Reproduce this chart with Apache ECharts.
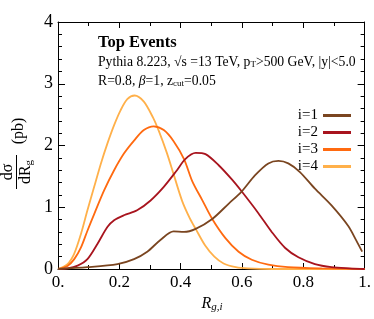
<!DOCTYPE html>
<html><head><meta charset="utf-8">
<script src="https://cdn.jsdelivr.net/npm/echarts@6/dist/echarts.min.js"></script>
<style>html,body{margin:0;padding:0;background:#fff}#c{width:374px;height:319px}</style>
</head><body><div id="c"></div>
<script>
var xTicks = ['0.', '0.2', '0.4', '0.6', '0.8', '1.'];
var yTicks = ['0', '1', '2', '3', '4'];
var seriesNames = ['i=1', 'i=2', 'i=3', 'i=4'];
var colors = ['#7a4520', '#a8141e', '#ff6a10', '#ffb04a'];

var r1X = [0, 0.096, 0.194, 0.248, 0.291, 0.334, 0.377, 0.411, 0.449, 0.503, 0.557, 0.598, 0.643, 0.686, 0.719, 0.751, 0.789, 0.838, 0.892, 0.946, 0.973, 0.992];
var r1Y = [0, 0.03, 0.08, 0.16, 0.28, 0.47, 0.61, 0.60, 0.65, 0.81, 1.06, 1.25, 1.52, 1.71, 1.75, 1.71, 1.57, 1.30, 1.03, 0.70, 0.46, 0.28];

var r2X = [0, 0.031, 0.064, 0.096, 0.129, 0.161, 0.183, 0.215, 0.258, 0.302, 0.345, 0.388, 0.415, 0.449, 0.481, 0.524, 0.567, 0.6, 0.654, 0.697, 0.741, 0.784, 0.838, 0.892, 0.95, 1.0];
var r2Y = [0, 0.01, 0.055, 0.16, 0.41, 0.68, 0.79, 0.87, 0.95, 1.11, 1.33, 1.60, 1.78, 1.88, 1.86, 1.68, 1.45, 1.25, 0.90, 0.60, 0.34, 0.19, 0.08, 0.03, 0.01, 0];

var r3X = [0, 0.031, 0.053, 0.075, 0.096, 0.118, 0.15, 0.183, 0.215, 0.248, 0.28, 0.312, 0.345, 0.377, 0.411, 0.438, 0.47, 0.503, 0.546, 0.589, 0.632, 0.686, 0.75, 0.86, 1.0];
var r3Y = [0, 0.05, 0.16, 0.35, 0.62, 0.89, 1.27, 1.60, 1.87, 2.08, 2.25, 2.31, 2.25, 2.07, 1.78, 1.42, 1.12, 0.81, 0.50, 0.28, 0.15, 0.07, 0.03, 0.01, 0];

var r4X = [0, 0.031, 0.053, 0.075, 0.096, 0.118, 0.14, 0.161, 0.183, 0.204, 0.226, 0.25, 0.28, 0.31, 0.33, 0.355, 0.378, 0.405, 0.43, 0.449, 0.48, 0.51, 0.54, 0.58, 0.62, 0.7, 1.0];
var r4Y = [0, 0.08, 0.25, 0.57, 0.95, 1.33, 1.71, 2.03, 2.33, 2.57, 2.75, 2.81, 2.71, 2.45, 2.22, 1.88, 1.52, 1.10, 0.82, 0.65, 0.38, 0.20, 0.09, 0.03, 0.01, 0, 0];

function pairs(xs, ys) { return xs.map(function (x, i) { return [x, ys[i]]; }); }
var allX = [r1X, r2X, r3X, r4X];
var allY = [r1Y, r2Y, r3Y, r4Y];

var serif = 'Liberation Serif';
var chart = echarts.init(document.getElementById('c'));
var axisCommon = {
  axisLine: { show: true, onZero: false, lineStyle: { color: '#000', width: 1 } },
  splitLine: { show: false }
};
var series = seriesNames.map(function (n, i) {
  return {
    name: n, type: 'line', data: pairs(allX[i], allY[i]), smooth: 0.3,
    showSymbol: false, symbol: 'none', lineStyle: { color: colors[i], width: 1.8 },
    itemStyle: { color: colors[i] }, z: 10 - i
  };
});
chart.setOption({
  animation: false,
  grid: { left: 58, right: 7, top: 22, bottom: 50 },
  legend: {
    data: seriesNames, orient: 'vertical', right: 18, top: 103, align: 'right',
    itemWidth: 28, itemHeight: 3, itemGap: 2, icon: 'rect',
    textStyle: { fontFamily: serif, fontSize: 15, color: '#000' }
  },
  xAxis: [
    Object.assign({
      type: 'value', min: 0, max: 1, interval: 0.2,
      axisTick: { inside: true, length: 6, lineStyle: { color: '#000' } },
      minorTick: { show: true, splitNumber: 2, length: 4, lineStyle: { color: '#000' } },
      axisLabel: { fontFamily: serif, fontSize: 17, color: '#000', margin: 5,
        formatter: function (v) { return xTicks[Math.round(v / 0.2)]; } }
    }, axisCommon),
    Object.assign({
      type: 'value', min: 0, max: 1, interval: 0.2, position: 'top',
      axisTick: { inside: true, length: 6, lineStyle: { color: '#000' } },
      minorTick: { show: true, splitNumber: 2, length: 4, lineStyle: { color: '#000' } },
      axisLabel: { show: false }
    }, axisCommon)
  ],
  yAxis: [
    Object.assign({
      type: 'value', min: 0, max: 4, interval: 1,
      axisTick: { inside: true, length: 7, lineStyle: { color: '#000' } },
      minorTick: { show: true, splitNumber: 5, length: 4, lineStyle: { color: '#000' } },
      axisLabel: { fontFamily: serif, fontSize: 18, color: '#000', margin: 5,
        formatter: function (v) { return yTicks[Math.round(v)]; } }
    }, axisCommon),
    Object.assign({
      type: 'value', min: 0, max: 4, interval: 1, position: 'right',
      axisTick: { inside: true, length: 7, lineStyle: { color: '#000' } },
      minorTick: { show: true, splitNumber: 5, length: 4, lineStyle: { color: '#000' } },
      axisLabel: { show: false }
    }, axisCommon)
  ],
  series: series,
  graphic: [
    { type: 'text', left: 98, top: 34, style: { text: 'Top Events', font: 'bold 16.5px "Liberation Serif"', fill: '#000' } },
    { type: 'text', left: 98, top: 55, style: {
      text: '{t|Pythia 8.223, √s =13 TeV, p}{s|T}{t|>500 GeV, |y|<5.0}',
      rich: { t: { fontFamily: serif, fontSize: 13.7, color: '#000' },
              s: { fontFamily: serif, fontSize: 9, color: '#000', padding: [6, 0, 0, 0] } } } },
    { type: 'text', left: 98, top: 74, style: {
      text: '{t|R=0.8, }{i|β}{t|=1, z}{s|cut}{t|=0.05}',
      rich: { t: { fontFamily: serif, fontSize: 13.7, color: '#000' },
              i: { fontFamily: serif, fontStyle: 'italic', fontSize: 13.7, color: '#000' },
              s: { fontFamily: serif, fontSize: 9, color: '#000', padding: [6, 0, 0, 0] } } } },
    { type: 'group', x: 16.5, y: 172, rotation: Math.PI / 2, children: [
      { type: 'text', x: 0, y: -9, style: { text: 'dσ', font: '16px "Liberation Serif"', fill: '#000', align: 'center', verticalAlign: 'middle' } },
      { type: 'line', shape: { x1: -17, y1: 0, x2: 17, y2: 0 }, style: { stroke: '#000', lineWidth: 1 } },
      { type: 'text', x: 0, y: 9, style: {
        text: '{a|dR}{b|g}', align: 'center', verticalAlign: 'middle',
        rich: { a: { fontFamily: serif, fontSize: 16, color: '#000' }, b: { fontFamily: serif, fontSize: 11, color: '#000', padding: [7, 0, 0, 0] } } } },
      { type: 'text', x: 41, y: 2, style: { text: '(pb)', font: '16px "Liberation Serif"', fill: '#000', align: 'center', verticalAlign: 'middle' } }
    ] },
    { type: 'text', x: 212, y: 304, style: {
      text: '{a|R}{b|g,i}', align: 'center', verticalAlign: 'middle',
      rich: { a: { fontFamily: serif, fontStyle: 'italic', fontSize: 16, color: '#000' }, b: { fontFamily: serif, fontStyle: 'italic', fontSize: 11, color: '#000', padding: [7, 0, 0, 0] } } } }
  ]
});
</script></body></html>
